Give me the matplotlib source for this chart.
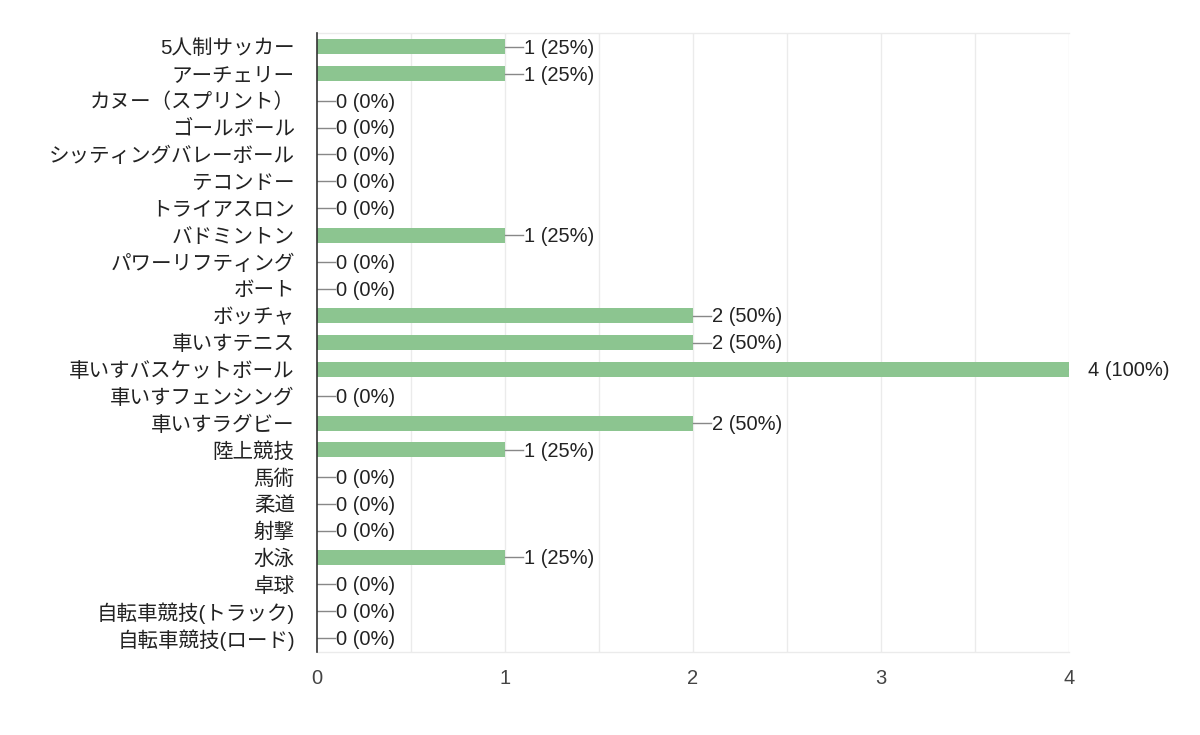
import matplotlib
matplotlib.use("Agg")
import matplotlib.pyplot as plt
import numpy as np

plt.rcParams['font.family'] = ['Liberation Sans', 'Noto Sans CJK JP', 'DejaVu Sans']

categories = ["5人制サッカー", "アーチェリー", "カヌー（スプリント）", "ゴールボール",
              "シッティングバレーボール", "テコンドー", "トライアスロン", "バドミントン",
              "パワーリフティング", "ボート", "ボッチャ", "車いすテニス",
              "車いすバスケットボール", "車いすフェンシング", "車いすラグビー", "陸上競技",
              "馬術", "柔道", "射撃", "水泳", "卓球", "自転車競技(トラック)", "自転車競技(ロード)"]
counts = [1, 1, 0, 0, 0, 0, 0, 1, 0, 0, 2, 2, 4, 0, 2, 1, 0, 0, 0, 1, 0, 0, 0]
percents = [25, 25, 0, 0, 0, 0, 0, 25, 0, 0, 50, 50, 100, 0, 50, 25, 0, 0, 0, 25, 0, 0, 0]
xticks = [0, 1, 2, 3, 4]

fig = plt.figure(figsize=(12, 7.35), dpi=100)
ax = fig.add_axes([317/1200, 1-652/735, (1069-317)/1200, (652-33)/735])

y = np.arange(len(categories))
ax.barh(y, counts, height=0.56, color='#8cc590', zorder=3)

ax.set_xlim(0, 4)
ax.set_ylim(len(categories) - 0.48, -0.52)

# gridlines
for gx in np.arange(0.5, 4.01, 0.5):
    ax.axvline(gx, color='#ebebeb', lw=1, zorder=1)

# leader lines and labels
px = 4 / (1069 - 317)  # data units per pixel
for yi, c, p in zip(y, counts, percents):
    ax.plot([c, c + 18 * px], [yi, yi], color='#888888', lw=1, zorder=4, clip_on=True)
    ax.text(c + 19 * px, yi + 0.05, f"{c} ({p}%)", va='center', ha='left', fontsize=14.5,
            color='#222222', clip_on=False, zorder=5)

ax.set_yticks(y)
ax.set_yticklabels(categories, fontsize=14.8, color='#222222')
ax.set_xticks(xticks)
ax.set_xticklabels([str(t) for t in xticks], fontsize=14.5, color='#444444')
ax.tick_params(axis='y', length=0, pad=16)
ax.tick_params(axis='x', length=0, pad=12)

for s in ['top', 'right', 'bottom']:
    ax.spines[s].set_color('#ebebeb')
    ax.spines[s].set_linewidth(1)
ax.spines['right'].set_visible(False)
ax.spines['left'].set_color('#333333')
ax.spines['left'].set_linewidth(1.2)
ax.spines['left'].set_zorder(6)

fig.savefig("out.png", dpi=100)
